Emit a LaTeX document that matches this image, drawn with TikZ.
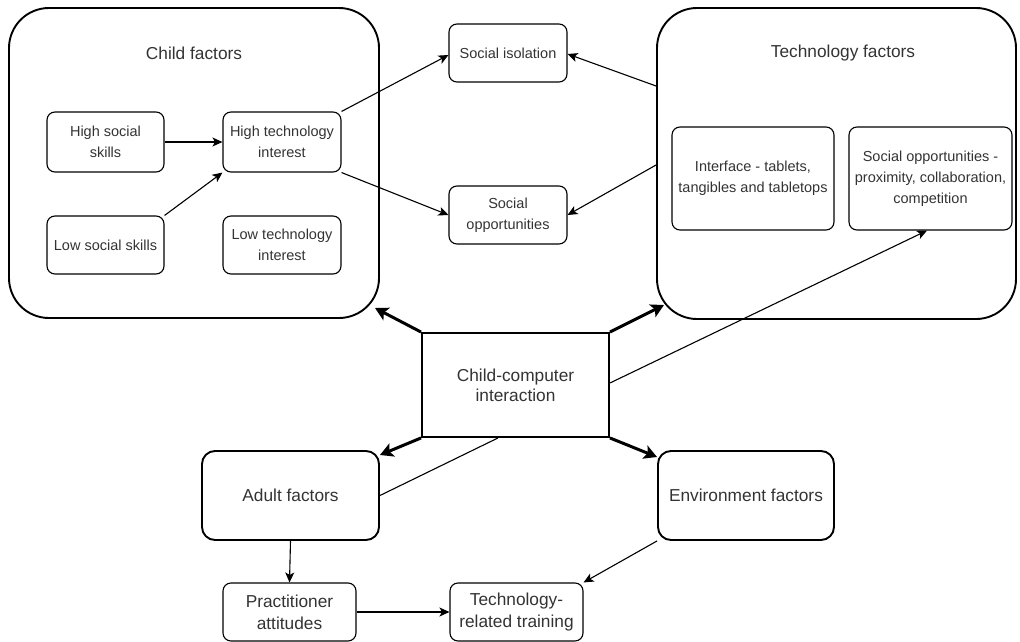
\documentclass[tikz,border=0pt]{standalone}
\usepackage{fontspec}
\setmainfont{Liberation Sans}
\usetikzlibrary{arrows.meta,calc}
\definecolor{txt}{HTML}{333333}
\begin{document}
\begin{tikzpicture}[x=1pt,y=-1pt,
  bigbox/.style={draw=black,line width=1.9pt,rounded corners=40pt,inner sep=0pt},
  midbox/.style={draw=black,line width=1.9pt,rounded corners=13pt,inner sep=0pt,align=center,text=txt,font=\fontsize{17.3}{21}\selectfont},
  smallbox/.style={draw=black,line width=1.1pt,rounded corners=8pt,inner sep=0pt,align=center,text=txt,font=\fontsize{14.5}{21}\selectfont},
  lowbox/.style={draw=black,line width=1.1pt,rounded corners=8pt,inner sep=0pt,align=center,text=txt,font=\fontsize{17.3}{22}\selectfont},
  title/.style={text=txt,font=\fontsize{17.3}{21}\selectfont,inner sep=0pt},
  thin/.style={line width=1.1pt,-{Stealth[length=10pt,width=9pt,inset=2.5pt]}},
  thick/.style={line width=3pt,-{Stealth[length=13pt,width=14pt,inset=3pt]}},
  plain/.style={line width=1.1pt}]
\useasboundingbox (0,0) rectangle (1020,642);
% containers
\node[bigbox,minimum width=370pt,minimum height=310pt] (child) at (194,163) {};
\node[bigbox,minimum width=359pt,minimum height=311pt] (tech) at (836.5,163.5) {};
\node[title] (childt) at (194,53) {Child factors};
\node[title] (techt) at (843,53) {Technology factors};
% child factor boxes
\node[smallbox,minimum width=117pt,minimum height=60pt] (hss) at (105.5,142) {High social\\skills};
\node[smallbox,minimum width=118pt,minimum height=60pt] (hti) at (282,142) {High technology\\interest};
\node[smallbox,minimum width=117pt,minimum height=58pt] (lss) at (105.5,245) {Low social skills};
\node[smallbox,minimum width=118pt,minimum height=58pt] (lti) at (282,245) {Low technology\\interest};
% middle outcome boxes
\node[smallbox,minimum width=118pt,minimum height=58pt] (si) at (508,53) {Social isolation};
\node[smallbox,minimum width=118pt,minimum height=58pt] (so) at (508,215) {Social\\opportunities};
% technology boxes
\node[smallbox,minimum width=162pt,minimum height=103pt] (intf) at (753,178.5) {Interface - tablets,\\tangibles and tabletops};
\node[smallbox,minimum width=163pt,minimum height=103pt] (so2) at (930.5,178.5) {Social opportunities -\\proximity, collaboration,\\competition};
% central
\node[draw=black,line width=1.9pt,inner sep=0pt,minimum width=187pt,minimum height=104pt,align=center,text=txt,font=\fontsize{17.3}{20}\selectfont] (cci) at (515.5,385) {Child-computer\\interaction};
\node[midbox,minimum width=177pt,minimum height=89pt] (adult) at (290.5,495.5) {Adult factors};
\node[midbox,minimum width=176pt,minimum height=89pt] (env) at (746,495.5) {Environment factors};
% bottom
\node[lowbox,minimum width=133pt,minimum height=58pt] (prac) at (289.5,612) {Practitioner\\attitudes};
\node[lowbox,minimum width=133pt,minimum height=58pt] (trt) at (516.5,612) {Technology-\\related training};
% helper coordinates on rounded borders
\coordinate (childc) at (375,308);
\coordinate (techc) at (664,305);
\coordinate (adultc) at (380,455);
\coordinate (envc) at (657,457);
% connectors
\draw[thin] (hss.east) -- (hti.west);
\draw[thin] (lss.north east) -- (hti.south west);
\draw[thin] (hti.north east) -- ([yshift=-2pt]si.west);
\draw[thin] (hti.south east) -- (so.west);
\draw[thin] ([yshift=77.5pt]tech.west) -- ([yshift=-1pt]si.east);
\draw[thin] ([yshift=-1.5pt]tech.west) -- (so.east);
\draw[thick] (cci.north west) -- (childc);
\draw[thick] (cci.north east) -- (techc);
\draw[thick] (cci.south west) -- (adultc);
\draw[thick] (cci.south east) -- (envc);
\draw[thin] ([yshift=2pt]cci.east) -- ([xshift=-3.5pt]so2.south);
\draw[plain] ([xshift=-17.5pt]cci.south) -- (adult.east);
\draw[thin] (adult.south) -- (prac.north);
\draw[thin] (prac.east) -- (trt.west);
\draw[thin] (env.south west) -- (trt.north east);
\end{tikzpicture}
\end{document}
